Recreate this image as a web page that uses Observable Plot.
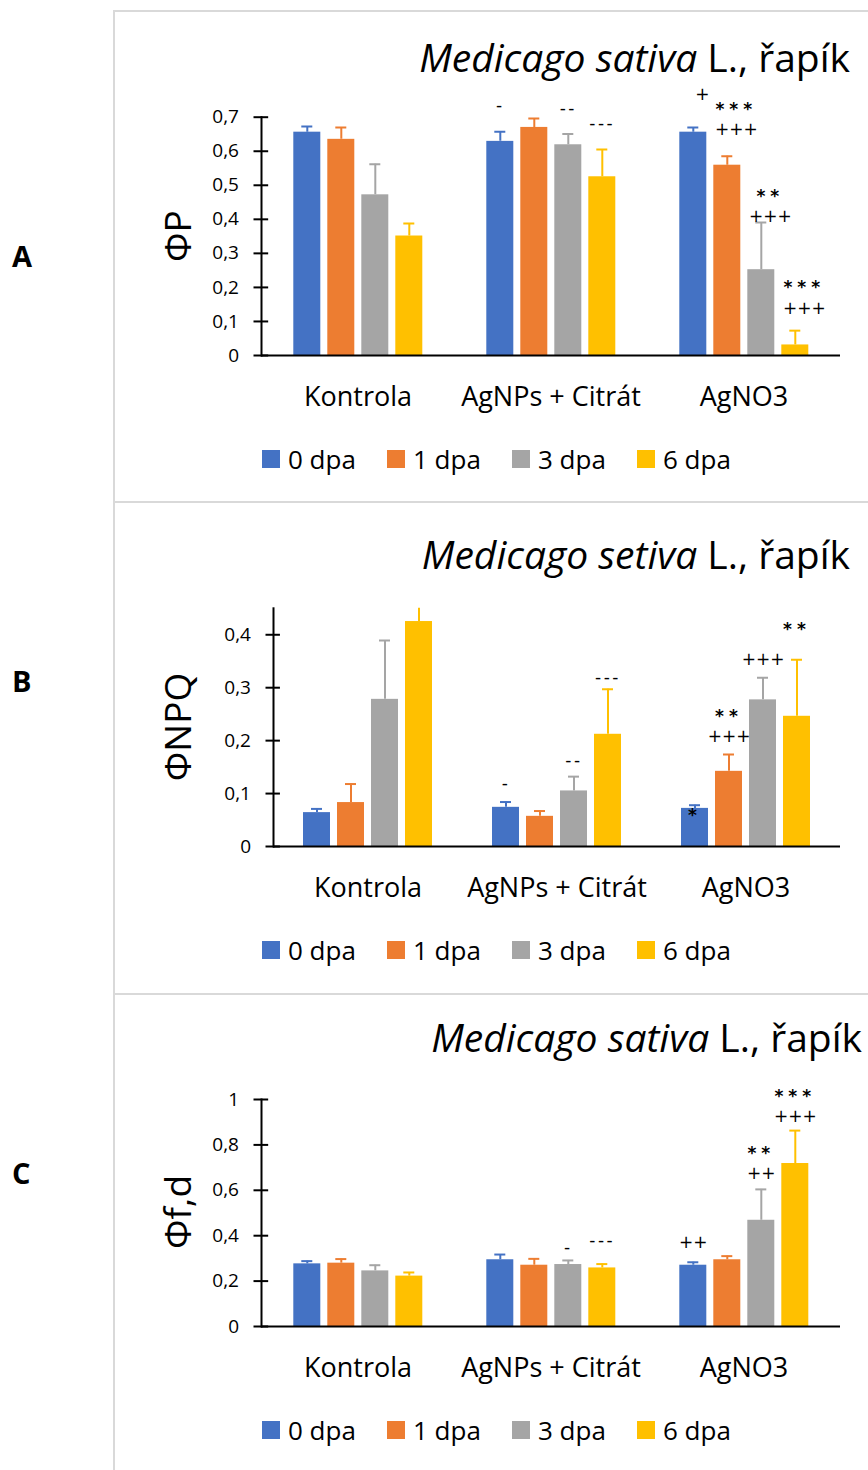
<!DOCTYPE html>
<html><head><meta charset="utf-8">
<script src="https://cdn.jsdelivr.net/npm/d3@7"></script>
<script src="https://cdn.jsdelivr.net/npm/@observablehq/plot@0.6"></script>
<style>
body{margin:0;background:#fff;font-family:"Open Sans",sans-serif;color:#000;}
#page{position:relative;width:868px;height:1470px;overflow:hidden;background:#fff;}
.abs{position:absolute;white-space:nowrap;line-height:1;}
.title{font-size:39px;text-align:right;}
.letter{font-size:29px;font-weight:bold;}
.ytitle{font-size:37px;transform:translate(-50%,-50%) rotate(-90deg);}
.leg{display:flex;align-items:center;font-size:26px;}
.leg span.sw{display:inline-block;width:18px;height:18px;margin-right:8px;}
svg{overflow:visible;}
</style></head>
<body><div id="page"></div>
<script>
// ---- shared categories ----
const groups = ["Kontrola", "AgNPs + Citrát", "AgNO3"];
const series = ["0 dpa", "1 dpa", "3 dpa", "6 dpa"];
const colors = ["#4472C4", "#ED7D31", "#A5A5A5", "#FFC000"];

// ---- Panel A: ΦP (rows = groups, columns = series) ----
const phiP    = [[0.656, 0.635, 0.472, 0.351], [0.629, 0.670, 0.619, 0.525], [0.656, 0.559, 0.252, 0.031]];
const phiPErr = [[0.017, 0.035, 0.090, 0.037], [0.028, 0.026, 0.032, 0.080], [0.014, 0.026, 0.139, 0.042]];
const phiPTicks = [0, 0.1, 0.2, 0.3, 0.4, 0.5, 0.6, 0.7];
const phiPMarks = [
  {group: "AgNPs + Citrát", series: "0 dpa", text: "-", y: 0.738},
  {group: "AgNPs + Citrát", series: "3 dpa", text: "--", y: 0.728},
  {group: "AgNPs + Citrát", series: "6 dpa", text: "---", y: 0.684},
  {group: "AgNO3", series: "0 dpa", text: "+", y: 0.769},
  {group: "AgNO3", series: "1 dpa", text: "***", y: 0.730},
  {group: "AgNO3", series: "1 dpa", text: "+++", y: 0.674},
  {group: "AgNO3", series: "3 dpa", text: "**", y: 0.475},
  {group: "AgNO3", series: "3 dpa", text: "+++", y: 0.416},
  {group: "AgNO3", series: "6 dpa", text: "***", y: 0.208},
  {group: "AgNO3", series: "6 dpa", text: "+++", y: 0.147}
];

// ---- Panel B: ΦNPQ ----
const phiNPQ    = [[0.064, 0.083, 0.278, 0.425], [0.074, 0.057, 0.105, 0.212], [0.072, 0.142, 0.277, 0.246]];
const phiNPQErr = [[0.007, 0.035, 0.111, 0.060], [0.010, 0.010, 0.027, 0.085], [0.006, 0.032, 0.042, 0.107]];
const phiNPQTicks = [0, 0.1, 0.2, 0.3, 0.4];
const phiNPQMarks = [
  {group: "AgNPs + Citrát", series: "0 dpa", text: "-", y: 0.120},
  {group: "AgNPs + Citrát", series: "3 dpa", text: "--", y: 0.164},
  {group: "AgNPs + Citrát", series: "6 dpa", text: "---", y: 0.321},
  {group: "AgNO3", series: "0 dpa", text: "*", y: 0.067},
  {group: "AgNO3", series: "1 dpa", text: "**", y: 0.252},
  {group: "AgNO3", series: "1 dpa", text: "+++", y: 0.213},
  {group: "AgNO3", series: "3 dpa", text: "+++", y: 0.355},
  {group: "AgNO3", series: "6 dpa", text: "**", y: 0.419}
];

// ---- Panel C: Φf,d ----
const phiFD    = [[0.276, 0.279, 0.245, 0.222], [0.294, 0.270, 0.273, 0.258], [0.270, 0.294, 0.468, 0.718]];
const phiFDErr = [[0.012, 0.018, 0.025, 0.016], [0.023, 0.028, 0.018, 0.017], [0.013, 0.016, 0.136, 0.145]];
const phiFDTicks = [0, 0.2, 0.4, 0.6, 0.8, 1];
const phiFDMarks = [
  {group: "AgNPs + Citrát", series: "3 dpa", text: "-", y: 0.350},
  {group: "AgNPs + Citrát", series: "6 dpa", text: "---", y: 0.382},
  {group: "AgNO3", series: "0 dpa", text: "++", y: 0.374},
  {group: "AgNO3", series: "3 dpa", text: "**", y: 0.775},
  {group: "AgNO3", series: "3 dpa", text: "++", y: 0.687},
  {group: "AgNO3", series: "6 dpa", text: "***", y: 1.025},
  {group: "AgNO3", series: "6 dpa", text: "+++", y: 0.940}
];

const page = document.getElementById("page");
function el(cls, style, html) {
  const d = document.createElement("div");
  d.className = "abs " + cls;
  Object.assign(d.style, style);
  d.innerHTML = html;
  page.appendChild(d);
  return d;
}
const fmt = d => String(d).replace(".", ",");

// merge stacked significance lines of one bar into a single multi-line label
function mergeMarks(marks) {
  const out = [];
  for (const [, rows] of d3.group(marks, d => d.group + "|" + d.series)) {
    const sorted = rows.slice().sort((a, b) => b.y - a.y);
    out.push({group: rows[0].group, series: rows[0].series, text: sorted.map(d => d.text).join("\n"), y: d3.mean(rows, d => d.y), n: rows.length});
  }
  return out;
}

function chart({values, errs, ticks, yMax, marks, height, marginTop, marginBottom, marginLeft, shiftGroup, shift}) {
  const data = groups.flatMap((g, i) => series.map((s, j) => ({group: g, series: s, value: values[i][j], err: errs[i][j]})));
  const labels = mergeMarks(marks);
  const W = 868, marginRight = 27.3;
  const facetW = (W - marginLeft - marginRight) / groups.length;
  const isShift = d => d.group === shiftGroup;
  const textOpts = (extra) => ({fx: "group", x: "series", y: "y", text: "text", fontSize: 17, fontFamily: "DejaVu Sans", fill: "#000", lineHeight: 1.18, ariaLabel: "sig", ...extra});
  const textMarks = [];
  for (const sh of [false, true]) {
    const dxv = sh ? (shift || 0) : 0;
    const base = d => (isShift(d) === sh);
    textMarks.push(
      Plot.text(labels, textOpts({filter: d => base(d) && d.n > 1, dy: 2, dx: dxv})),
      Plot.text(labels, textOpts({filter: d => base(d) && d.n === 1 && d.text.includes("*"), dy: 4, dx: dxv})),
      Plot.text(labels, textOpts({filter: d => base(d) && d.n === 1 && !d.text.includes("*"), dx: dxv}))
    );
  }
  const svg = Plot.plot({
    width: W, height, marginTop, marginBottom, marginLeft, marginRight,
    style: {fontFamily: "'Open Sans', sans-serif", fontSize: "27px", color: "#000", background: "transparent", overflow: "visible"},
    fx: {domain: groups, padding: 0, label: null, axis: "bottom", tickSize: 0, tickPadding: 31},
    x: {domain: series, paddingInner: 0.214, paddingOuter: 0.869, axis: null},
    y: {domain: [0, yMax], label: null},
    color: {domain: series, range: colors},
    marks: [
      Plot.barY(data, {fx: "group", x: "series", y: "value", fill: "series"}),
      Plot.ruleX(data, {fx: "group", x: "series", y1: "value", y2: d => d.value + d.err, stroke: "series", strokeWidth: 2, clip: "frame"}),
      Plot.tickY(data, {fx: "group", x: "series", y: d => d.value + d.err, stroke: "series", strokeWidth: 2, insetLeft: 8, insetRight: 8, clip: "frame"}),
      Plot.ruleY([0], {stroke: "#000", strokeWidth: 2}),
      Plot.frame({anchor: "left", facetAnchor: "left", stroke: "#000", strokeWidth: 2}),
      Plot.tickY(ticks, {y: d => d, facetAnchor: "left", insetLeft: 0, insetRight: facetW - 15, dx: -7.5, stroke: "#000", strokeWidth: 2}),
      Plot.axisY({ticks, tickSize: 0, tickPadding: 22.5, tickFormat: fmt, fontSize: 19, label: null, fill: "#000"}),
      ...textMarks
    ]
  });
  // widen the significance glyph spacing (asterisks / dashes) like the original labels
  svg.querySelectorAll("text, tspan").forEach(node => {
    if (node.querySelector("tspan")) return;
    const t = (node.textContent || "").trim();
    if (/^\*+$/.test(t)) { node.style.letterSpacing = "5px"; node.style.fontWeight = "bold"; }
    else if (/^-+$/.test(t)) node.style.letterSpacing = "2.5px";
  });
  return svg;
}

const panels = [
  {letter: "A", letterBase: 266.7, boxTop: 11, title: "<i>Medicago sativa</i> L., řapík", titleBase: 72, titleRight: 18,
   ytitle: "ΦP", yCenter: 236, svgTop: 80, legendY: 459,
   opts: {values: phiP, errs: phiPErr, ticks: phiPTicks, yMax: 0.7, marks: phiPMarks, height: 340, marginTop: 36.7, marginBottom: 65, marginLeft: 260.7, shiftGroup: "AgNO3", shift: 9}},
  {letter: "B", letterBase: 691.7, boxTop: 502, title: "<i>Medicago setiva</i> L., řapík", titleBase: 569, titleRight: 18,
   ytitle: "ΦNPQ", yCenter: 727, svgTop: 570, legendY: 950,
   opts: {values: phiNPQ, errs: phiNPQErr, ticks: phiNPQTicks, yMax: 0.45, marks: phiNPQMarks, height: 340, marginTop: 37.8, marginBottom: 64, marginLeft: 272}},
  {letter: "C", letterBase: 1184, boxTop: 994, title: "<i>Medicago sativa</i> L., řapík", titleBase: 1052, titleRight: 6,
   ytitle: "Φf,d", yCenter: 1212, svgTop: 1050, legendY: 1430,
   opts: {values: phiFD, errs: phiFDErr, ticks: phiFDTicks, yMax: 1, marks: phiFDMarks, height: 340, marginTop: 49, marginBottom: 64, marginLeft: 260.7}}
];

// box lines
el("", {left: "113px", top: "11px", width: "2px", height: "1459px", background: "#d9d9d9"}, "");
for (const p of panels) {
  el("", {left: "113px", top: (p.boxTop - 1) + "px", width: "760px", height: "2px", background: "#d9d9d9"}, "");
}

for (const p of panels) {
  const svg = chart(p.opts);
  const holder = el("", {left: "0px", top: p.svgTop + "px"}, "");
  holder.appendChild(svg);
  el("letter", {left: "12px", top: (p.letterBase - 0.888 * 29) + "px"}, p.letter);
  el("title", {right: p.titleRight + "px", top: (p.titleBase - 0.888 * 39) + "px"}, p.title);
  el("ytitle", {left: "176px", top: p.yCenter + "px"}, p.ytitle);
  series.forEach((s, i) => {
    el("leg", {left: (262 + i * 125) + "px", top: (p.legendY - 14) + "px", height: "28px"},
      `<span class="sw" style="background:${colors[i]}"></span>${s}`);
  });
}
</script>
</body></html>
